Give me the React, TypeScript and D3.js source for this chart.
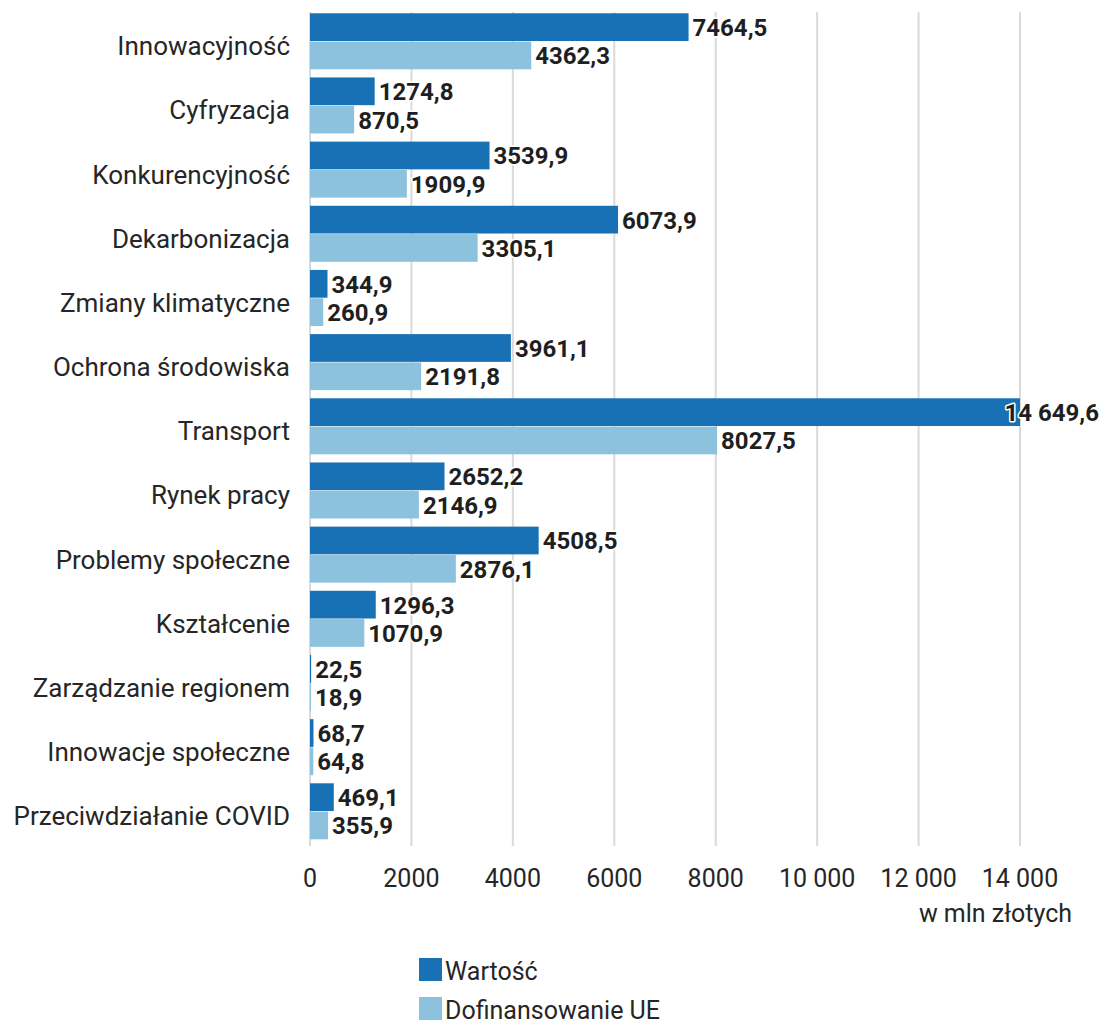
import React from "react";
import * as d3 from "d3";

const categories = [
  "Innowacyjność",
  "Cyfryzacja",
  "Konkurencyjność",
  "Dekarbonizacja",
  "Zmiany klimatyczne",
  "Ochrona środowiska",
  "Transport",
  "Rynek pracy",
  "Problemy społeczne",
  "Kształcenie",
  "Zarządzanie regionem",
  "Innowacje społeczne",
  "Przeciwdziałanie COVID",
];
const wartosc = [7464.5, 1274.8, 3539.9, 6073.9, 344.9, 3961.1, 14649.6, 2652.2, 4508.5, 1296.3, 22.5, 68.7, 469.1];
const dofinansowanie = [4362.3, 870.5, 1909.9, 3305.1, 260.9, 2191.8, 8027.5, 2146.9, 2876.1, 1070.9, 18.9, 64.8, 355.9];
const seriesNames = ["Wartość", "Dofinansowanie UE"];
const seriesColors = ["#1870b5", "#8cc2dd"];
const xTicks = [0, 2000, 4000, 6000, 8000, 10000, 12000, 14000];
const axisTitle = "w mln złotych";

const W = 1102;
const H = 1024;
const FONT = "Roboto, 'Open Sans', sans-serif";

function plNum(v: number, decimals: number): string {
  const s = v.toFixed(decimals);
  const [intPart, dec] = s.split(".");
  let ip = intPart;
  if (ip.length > 4) {
    ip = ip.replace(/\B(?=(\d{3})+(?!\d))/g, " ");
  }
  return dec !== undefined ? ip + "," + dec : ip;
}

export default function App() {
  const x = d3.scaleLinear().domain([0, 14000]).range([310, 1020]).clamp(true);
  const y = d3
    .scaleBand<string>()
    .domain(categories)
    .range([9.2, 843.4])
    .paddingInner(0.127)
    .paddingOuter(0.0635);
  const inner = d3.scaleBand<number>().domain([0, 1]).range([0, y.bandwidth()]).paddingInner(0.02);
  const series = [wartosc, dofinansowanie];

  return (
    <div style={{ position: "fixed", left: 0, top: 0 }}>
      <svg width={W} height={H} style={{ display: "block", background: "#fff" }} fontFamily={FONT}>
        {xTicks.map((t) => (
          <line key={"g" + t} x1={x(t)} x2={x(t)} y1={12} y2={846} stroke="#dadada" strokeWidth={2} />
        ))}
        {categories.map((c, i) => {
          const y0 = y(c)!;
          return (
            <g key={c}>
              {series.map((s, k) => (
                <rect
                  key={k}
                  x={x(0)}
                  y={y0 + inner(k)!}
                  width={Math.max(0, x(s[i]) - x(0))}
                  height={inner.bandwidth()}
                  fill={seriesColors[k]}
                />
              ))}
              <text
                x={290}
                y={y0 + y.bandwidth() / 2 + 14}
                textAnchor="end"
                fontSize={26}
                fill="#262626"
              >
                {c}
              </text>
            </g>
          );
        })}
        {categories.map((c, i) => {
          const y0 = y(c)!;
          return series.map((s, k) => {
            const label = plNum(s[i], 1);
            const approxW = label.length * 12.2;
            const lx = x(s[i]) + 4;
            const overflow = lx + approxW > 1098;
            return (
              <text
                key={c + k}
                x={overflow ? 1099 : lx}
                textAnchor={overflow ? "end" : "start"}
                y={y0 + inner(k)! + inner.bandwidth() / 2 + 9}
                fontSize={24}
                fontWeight={700}
                fill="#1f1f1f"
                stroke="#fff"
                strokeWidth={3}
                strokeLinejoin="round"
                style={{ paintOrder: "stroke" }}
              >
                {label}
              </text>
            );
          });
        })}
        {xTicks.map((t) => (
          <text key={"t" + t} x={x(t)} y={887} textAnchor="middle" fontSize={25} fill="#262626">
            {plNum(t, 0)}
          </text>
        ))}
        <text x={1072} y={922} textAnchor="end" fontSize={25} fill="#262626">
          {axisTitle}
        </text>
        {seriesNames.map((n, k) => (
          <g key={n}>
            <rect x={419} y={958 + k * 39} width={23} height={23} fill={seriesColors[k]} />
            <text x={445} y={980 + k * 39} fontSize={25} fill="#262626">
              {n}
            </text>
          </g>
        ))}
      </svg>
    </div>
  );
}
